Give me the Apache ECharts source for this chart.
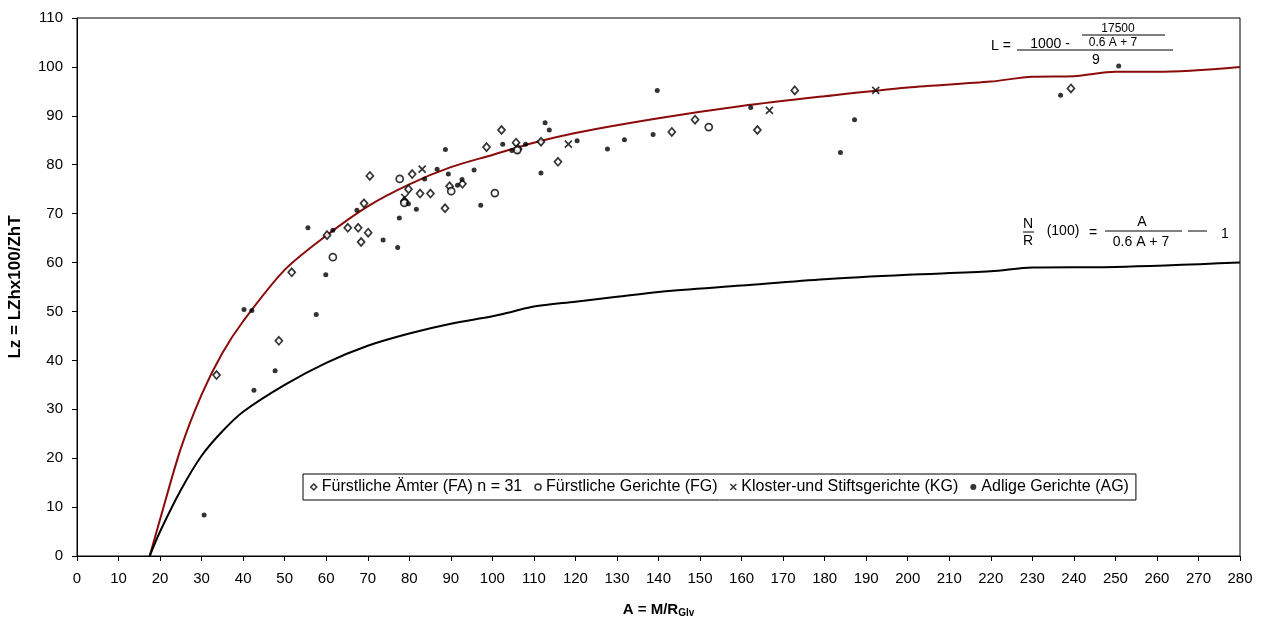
<!DOCTYPE html>
<html>
<head>
<meta charset="utf-8">
<script src="https://cdn.jsdelivr.net/npm/echarts@6/dist/echarts.min.js"></script>
<style>
  html, body { margin: 0; padding: 0; background: #fff; }
  #chart { width: 1266px; height: 618px; }
</style>
</head>
<body>
<div id="chart"></div>
<script>
// values
var xTicks = [0, 280, 10];
var yTicks = [0, 110, 10];

// curve L (red)
var curveL = [
  [17.5, 0], [20, 7.5], [25, 22], [30, 33], [35, 41.5], [40, 48], [50, 58.5],
  [60, 65.5], [70, 71.5], [80, 76], [90, 79.5], [100, 82], [110, 84.5],
  [120, 86.5], [140, 89.5], [160, 92], [180, 94], [200, 95.8], [220, 97],
  [230, 98], [240, 98.1], [250, 99], [260, 99], [280, 100]
];

// curve N/R (black)
var curveNR = [
  [17.5, 0], [20, 5], [25, 13.5], [30, 20.5], [35, 25.5], [40, 29.5], [50, 35],
  [60, 39.5], [70, 43], [80, 45.5], [90, 47.5], [100, 49], [105, 50], [110, 51],
  [120, 52], [130, 53], [140, 54], [160, 55.3], [180, 56.6], [200, 57.5],
  [220, 58.2], [230, 59], [250, 59.1], [280, 60]
];

var seriesNames = [
  'Fürstliche Ämter (FA) n = 31',
  'Fürstliche Gerichte (FG)',
  'Kloster-und Stiftsgerichte (KG)',
  'Adlige Gerichte (AG)'
];

var dataFA = [
  [33.6, 37], [48.6, 44], [51.7, 58], [60.2, 65.6], [65.2, 67.1], [67.7, 67.1],
  [68.4, 64.2], [70.1, 66.1], [69.1, 72.1], [70.5, 77.7], [80.7, 78.1],
  [79.8, 75], [78.8, 72.5], [82.6, 74.1], [85.1, 74.1], [88.6, 71.1], [89.7, 75.6],
  [92.8, 76.1], [98.6, 83.6], [102.2, 87.1], [105.7, 84.5], [106.2, 83.2],
  [111.7, 84.7], [115.8, 80.6], [143.2, 86.7], [148.8, 89.2], [163.8, 87.1],
  [172.8, 95.2], [239.3, 95.6]
];

var dataFG = [
  [61.6, 61.1], [77.7, 77.1], [78.8, 72.2], [90.1, 74.6], [100.6, 74.2],
  [106, 83], [152.1, 87.7]
];

var dataKG = [
  [83.1, 79.1], [78.9, 73.3], [118.3, 84.2], [166.7, 91.1], [192.3, 95.2]
];

var dataAG = [
  [30.6, 8.4], [40.2, 50.4], [42.1, 50.2], [42.6, 33.9], [47.7, 37.9],
  [55.6, 67.1], [57.6, 49.4], [59.9, 57.5], [61.6, 66.6], [67.4, 70.7],
  [73.7, 64.6], [77.2, 63.1], [77.6, 69.1], [79.8, 72], [81.7, 70.9],
  [83.7, 77.1], [86.7, 79.1], [88.7, 83.1], [89.4, 78.1], [91.6, 75.8],
  [92.7, 77], [95.6, 78.9], [97.2, 71.7], [102.5, 84.2], [104.7, 82.9],
  [108, 84.2], [111.7, 78.3], [112.7, 88.6], [113.7, 87.1], [120.4, 84.9],
  [127.7, 83.2], [131.8, 85.1], [138.7, 86.2], [139.7, 95.2], [162.2, 91.7],
  [183.8, 82.5], [187.2, 89.2], [236.8, 94.2], [250.8, 100.2]
];

var FONT = 'Arial, "Liberation Sans", sans-serif';
var crossPath = 'path://M0,0L10,10M10,0L0,10';

var chart = echarts.init(document.getElementById('chart'));

function scatter(name, data, symbol, size, filled) {
  return {
    name: name,
    type: 'scatter',
    data: data,
    symbol: symbol,
    symbolSize: size,
    z: 5,
    itemStyle: filled
      ? { color: '#000', borderWidth: 0 }
      : { color: '#fff', borderColor: '#000', borderWidth: 1.7 }
  };
}

var txt = function (x, y, text, size, align) {
  return {
    type: 'text', x: x, y: y, z: 10,
    style: {
      text: text, font: size + 'px ' + FONT, fill: '#000',
      textAlign: align || 'center', textVerticalAlign: 'middle'
    }
  };
};
var hline = function (x1, x2, y) {
  return {
    type: 'line', z: 10,
    shape: { x1: x1, y1: y, x2: x2, y2: y },
    style: { stroke: '#000', lineWidth: 1 }
  };
};

chart.setOption({
  animation: false,
  backgroundColor: '#fff',
  grid: {
    left: 77, right: 26, top: 18, bottom: 62,
    outerBoundsMode: 'none',
    containLabel: false,
    show: true, borderColor: '#000', borderWidth: 1
  },
  legend: {
    left: 303, top: 474,
    orient: 'horizontal',
    borderColor: '#000', borderWidth: 1,
    padding: [5, 7, 5, 7],
    itemGap: 12,
    itemWidth: 6, itemHeight: 6,
    textStyle: { fontFamily: FONT, fontSize: 16, color: '#000' },
    data: [
      { name: seriesNames[0], icon: 'diamond', itemStyle: { color: '#fff', borderColor: '#000', borderWidth: 1.5 } },
      { name: seriesNames[1], icon: 'circle', itemStyle: { color: '#fff', borderColor: '#000', borderWidth: 1.5 } },
      { name: seriesNames[2], icon: crossPath, itemStyle: { color: 'transparent', borderColor: '#000', borderWidth: 1.5 } },
      { name: seriesNames[3], icon: 'circle', itemStyle: { color: '#000', borderWidth: 0 } }
    ]
  },
  xAxis: {
    type: 'value',
    min: xTicks[0], max: xTicks[1], interval: xTicks[2],
    name: '{a|A = M/R}{s|Glv}',
    nameLocation: 'middle',
    nameGap: 45,
    nameTextStyle: {
      rich: {
        a: { fontFamily: FONT, fontSize: 15, fontWeight: 'bold', color: '#000' },
        s: { fontFamily: FONT, fontSize: 10, fontWeight: 'bold', color: '#000', verticalAlign: 'bottom', padding: [7, 0, 0, 0] }
      }
    },
    axisLine: { lineStyle: { color: '#000', width: 1 } },
    axisTick: { show: true, length: 5, lineStyle: { color: '#000' } },
    axisLabel: { fontFamily: FONT, fontSize: 15, color: '#000', margin: 15 },
    splitLine: { show: false }
  },
  yAxis: {
    type: 'value',
    min: yTicks[0], max: yTicks[1], interval: yTicks[2],
    name: 'Lz = LZhx100/ZhT',
    nameLocation: 'middle',
    nameGap: 53,
    nameTextStyle: { fontFamily: FONT, fontSize: 17, fontWeight: 'bold', color: '#000' },
    axisLine: { show: true, lineStyle: { color: '#000', width: 1 } },
    axisTick: { show: true, length: 5, lineStyle: { color: '#000' } },
    axisLabel: { fontFamily: FONT, fontSize: 15, color: '#000', margin: 14 },
    splitLine: { show: false }
  },
  series: [
    {
      name: 'L', type: 'line', data: curveL, smooth: 0.3, showSymbol: false,
      lineStyle: { color: '#8b0a0a', width: 2 }, z: 3
    },
    {
      name: 'NR', type: 'line', data: curveNR, smooth: 0.3, showSymbol: false,
      lineStyle: { color: '#000', width: 2 }, z: 3
    },
    scatter(seriesNames[0], dataFA, 'diamond', [7, 8], false),
    scatter(seriesNames[1], dataFG, 'circle', 7, false),
    scatter(seriesNames[2], dataKG, crossPath, 7, false),
    scatter(seriesNames[3], dataAG, 'circle', 5, true)
  ],
  graphic: [
    // L formula
    txt(991, 46, 'L =', 14, 'left'),
    txt(1050, 44, '1000 -', 14),
    txt(1118, 29, '17500', 12),
    hline(1082, 1165, 35),
    txt(1113, 43, '0.6 A + 7', 12),
    hline(1017, 1173, 50),
    txt(1096, 60, '9', 14),
    // N/R formula
    txt(1028, 224, 'N', 14),
    hline(1023, 1034, 232),
    txt(1028, 241, 'R', 14),
    txt(1063, 231, '(100)', 14),
    txt(1093, 233, '=', 14),
    txt(1142, 222, 'A', 14),
    hline(1105, 1182, 231),
    txt(1141, 242, '0.6 A + 7', 14),
    hline(1188, 1207, 231),
    txt(1225, 234, '1', 14)
  ]
});
</script>
</body>
</html>
